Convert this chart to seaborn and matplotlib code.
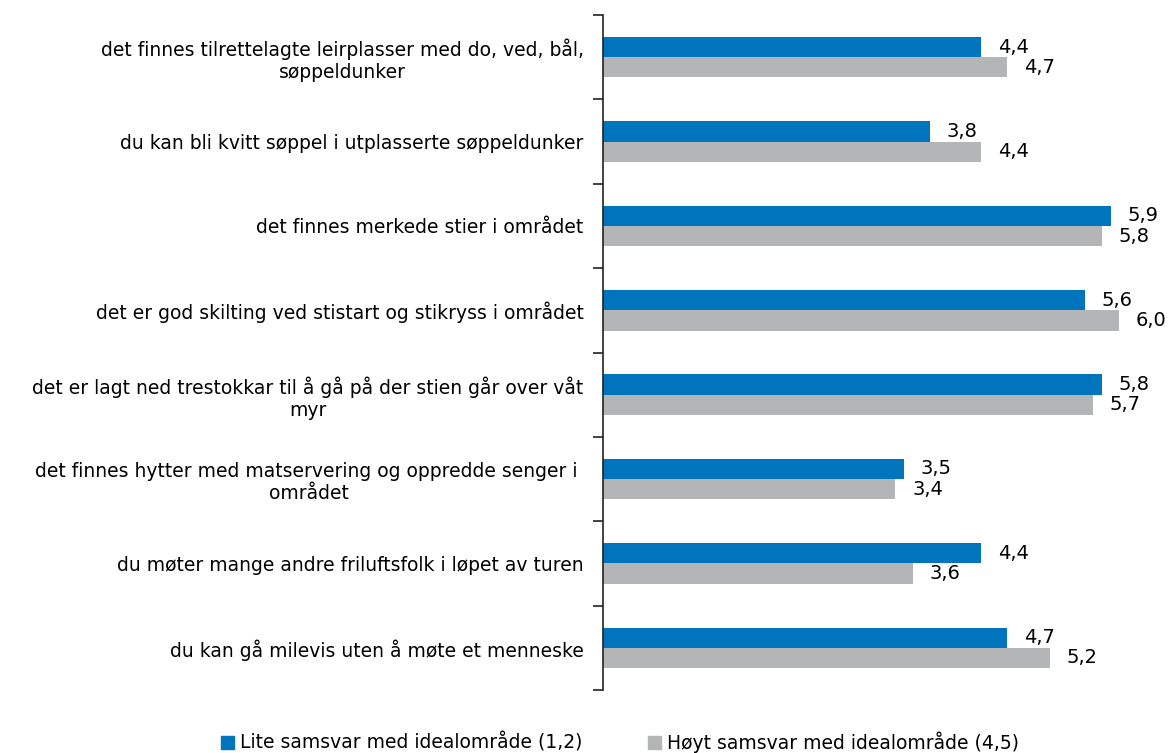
import matplotlib
matplotlib.use("Agg")
from matplotlib import pyplot as plt
import pandas as pd
import seaborn as sns

# Data
categories = [
    "det finnes tilrettelagte leirplasser med do, ved, bål,\nsøppeldunker",
    "du kan bli kvitt søppel i utplasserte søppeldunker",
    "det finnes merkede stier i området",
    "det er god skilting ved stistart og stikryss i området",
    "det er lagt ned trestokkar til å gå på der stien går over våt\nmyr",
    "det finnes hytter med matservering og oppredde senger i \nområdet",
    "du møter mange andre friluftsfolk i løpet av turen",
    "du kan gå milevis uten å møte et menneske",
]
series_names = ["Lite samsvar med idealområde (1,2)", "Høyt samsvar med idealområde (4,5)"]
lite = [4.4, 3.8, 5.9, 5.6, 5.8, 3.5, 4.4, 4.7]
hoyt = [4.7, 4.4, 5.8, 6.0, 5.7, 3.4, 3.6, 5.2]
colors = ["#0074BD", "#B4B5B7"]

df = pd.DataFrame({
    "kategori": categories * 2,
    "verdi": lite + hoyt,
    "serie": [series_names[0]] * len(categories) + [series_names[1]] * len(categories),
})

sns.set_style("white")
plt.rcParams["font.family"] = ["DejaVu Sans"]

fig = plt.figure(figsize=(11.69, 7.53), dpi=100)
ax = fig.add_axes([603 / 1169, 1 - 690 / 753, 1 - 603 / 1169, (690 - 15) / 753])

sns.barplot(data=df, y="kategori", x="verdi", hue="serie", orient="h",
            palette=colors, width=0.48, gap=0, saturation=1, ax=ax,
            order=categories, hue_order=series_names, errorbar=None, linewidth=0)

for cont in ax.containers:
    vals = [b.get_width() for b in cont]
    ax.bar_label(cont, labels=[f"{v:.1f}".replace(".", ",") for v in vals],
                 padding=12, fontsize=14, color="black")

ax.set_xlim(0, 6.58)
ax.set_ylim(len(categories) - 0.5, -0.5)
ax.set_xlabel("")
ax.set_ylabel("")
ax.set_xticks([])

# category labels at group centres, tick marks at group borders
ax.set_yticks(range(len(categories)))
ax.set_yticklabels(categories, fontsize=13.5, multialignment="center", color="black")
ax.tick_params(axis="y", which="major", left=True, length=0, pad=14)
ax.set_yticks([i - 0.5 for i in range(len(categories) + 1)], minor=True)
ax.tick_params(axis="y", which="minor", left=True, length=7, width=1.2,
               direction="out", color="#222222")

for side in ["top", "right", "bottom"]:
    ax.spines[side].set_visible(False)
ax.spines["left"].set_color("#222222")
ax.spines["left"].set_linewidth(1.2)

ax.legend_.remove()
handles = [plt.Rectangle((0, 0), 1, 1, color=c) for c in colors]
fig.legend(handles, series_names, loc="center", bbox_to_anchor=(620 / 1169, 1 - 742 / 753),
           ncol=2, frameon=False, fontsize=13.5, handlelength=0.7, handleheight=0.7,
           handletextpad=0.3, columnspacing=3.5, labelcolor="black")

plt.savefig("out.png", dpi=100)
plt.close()
